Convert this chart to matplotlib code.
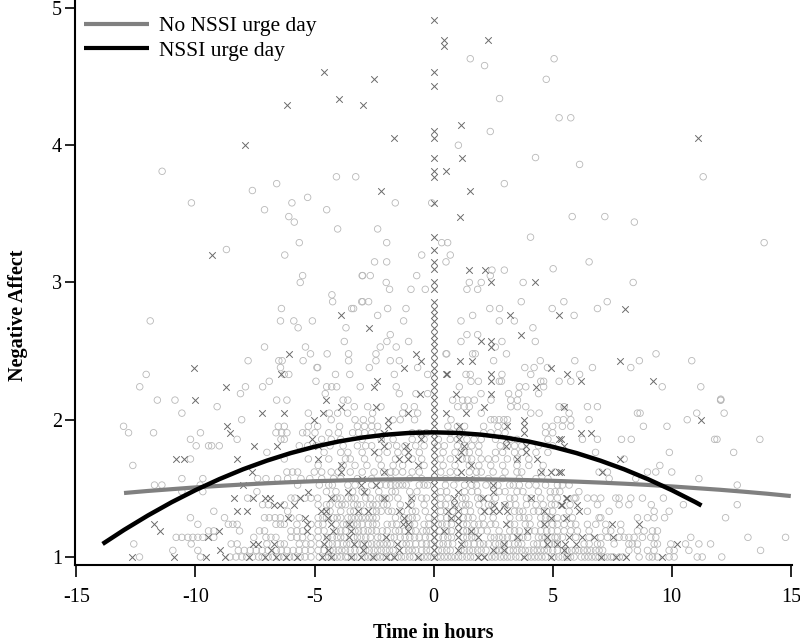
import matplotlib
matplotlib.use("Agg")
import matplotlib.pyplot as plt
import numpy as np

plt.rcParams['font.family'] = ['Liberation Serif', 'DejaVu Serif']

# ---------------- data ----------------
# Negative-affect levels of the dense band (steps of 1/21)
levels = [1.0, 1.048, 1.095, 1.143, 1.19, 1.238, 1.286, 1.333, 1.381, 1.429, 1.476,
          1.524, 1.571, 1.619, 1.667, 1.714, 1.762, 1.81, 1.857, 1.905, 1.952, 2.0,
          2.048, 2.095, 2.143]

# circles (no NSSI urge day observations), x positions per level
circle_rows = [
    [-12.35, -9.79, -8.55, -8.3, -8.05, -7.85, -7.6, -7.35, -7.2, -6.95, -6.75, -6.5, -6.3, -6.05, -5.85, -5.6, -5.4, -5.15,
     -4.8, -4.55, -4.4, -4.2, -4.05, -3.9, -3.7, -3.6, -3.35, -3.2, -2.9, -2.75, -2.6, -2.4, -2.25, -2.1, -1.85, -1.75, -1.5,
     -1.35, -1.2, -1.0, -0.85, -0.55, -0.4, -0.25, -0.1, 0.15, 0.3, 0.45, 0.6, 0.75, 0.9, 1.05, 1.2, 1.4, 1.55, 1.7, 2.0, 2.3,
     2.45, 2.6, 2.8, 2.95, 3.1, 3.25, 3.45, 3.6, 3.95, 4.1, 4.25, 4.4, 4.55, 4.7, 5.05, 5.25, 5.4, 5.6, 5.75, 5.9,
     6.2, 6.35, 6.5, 6.65, 6.8, 6.95, 7.15, 7.3, 7.45, 7.55, 7.8, 7.95, 8.63, 9.05, 9.19, 9.4, 9.89, 10.1, 11.07, 11.28, 12.1],
    [-10.95, -9.9, -8.2, -7.95, -7.7, -7.45, -7.2, -6.95, -6.6, -6.4, -6.15, -5.9, -5.65, -5.4, -5.15,
     -4.85, -4.6, -4.35, -4.2, -4.0, -3.85, -3.7, -3.5, -3.3, -3.1, -2.85, -2.7, -2.5, -2.35, -2.2, -2.0, -1.85, -1.7, -1.25,
     -1.05, -0.9, -0.75, -0.5, -0.3, -0.15, 0.2, 0.35, 0.55, 0.7, 1.15, 1.3, 1.5, 1.65, 1.85, 2.0, 2.2, 2.6, 2.75, 2.9, 3.2,
     3.35, 3.5, 3.7, 3.85, 4.0, 4.2, 4.35, 4.5, 4.65, 4.8, 5.0, 5.2, 5.45, 5.6, 5.8, 5.95,
     6.1, 6.3, 6.45, 6.6, 6.8, 6.95, 7.1, 8.2, 8.56, 8.98, 9.26, 9.89, 10.1, 10.72, 13.73],
    [-12.59, -10.18, -8.5, -8.25, -7.0, -6.43, -6.27, -5.64, -5.36, -5.15,
     -4.8, -4.4, -4.25, -4.05, -3.8, -3.65, -3.5, -3.2, -3.0, -2.75, -2.6, -2.4, -2.25, -2.1, -1.95, -1.8, -1.3, -1.15, -1.0,
     -0.75, -0.5, -0.3, -0.1, 0.25, 0.4, 0.6, 0.8, 1.3, 1.45, 1.7, 1.95, 2.1, 2.3, 2.6, 2.75, 2.95, 3.15, 3.4, 3.55, 3.7,
     4.2, 4.35, 4.6, 4.85, 5.1,
     5.2, 6.32, 6.53, 6.88, 7.02, 7.58, 8.2, 8.34, 8.56, 9.26, 9.4, 9.96, 10.58, 11.14, 11.63],
    [-10.81, -10.57, -10.32, -10.11, -9.9, -9.69, -9.23, -7.55, -7.04, -6.83, -6.62, -5.99, -5.74, -5.5, -5.15,
     -4.85, -4.45, -4.25, -4.05, -3.9, -3.75, -3.35, -3.2, -3.05, -2.85, -2.65, -2.35, -2.2, -1.8, -1.65, -1.4, -1.2, -1.0,
     -0.8, -0.6, -0.35, -0.15, 0.2, 0.4, 0.6, 0.75, 1.25, 1.4, 1.6, 1.75, 2.4, 2.55, 2.75, 2.9, 3.1, 3.3, 3.6, 3.75, 3.95,
     4.4, 4.55, 4.7, 4.95, 5.1,
     5.2, 5.41, 5.97, 6.53, 7.02, 7.3, 7.79, 8.0, 8.2, 8.42, 8.77, 9.12, 9.33, 10.8, 13.2, 14.78],
    [-9.45, -9.23, -8.15, -7.31, -7.1, -5.99, -5.74, -5.5,
     -4.85, -4.6, -4.1, -3.9, -3.7, -3.3, -3.15, -2.95, -2.75, -2.6, -2.4, -2.15, -1.95, -1.6, -1.45, -1.2, -0.95, -0.75,
     -0.45, -0.3, -0.15, 0.25, 0.55, 0.75, 1.25, 1.4, 1.6, 1.75, 2.0, 2.25, 2.75, 3.2, 3.4, 3.6, 4.0, 4.25, 4.5, 4.75, 4.95,
     5.2, 5.48, 5.76, 6.04, 6.53, 7.23, 7.44, 7.86, 8.56, 8.84, 9.19, 9.4],
    [-9.9, -8.62, -8.43, -8.25, -6.62, -6.43, -6.27, -5.74, -5.15,
     -4.85, -4.65, -4.1, -3.8, -3.65, -3.5, -3.35, -3.2, -3.0, -2.75, -2.55, -2.4, -1.95, -1.75, -1.55, -1.0, -0.8, -0.4,
     -0.2, 0.2, 0.35, 0.55, 0.75, 1.25, 1.4, 1.7, 1.9, 2.1, 2.4, 2.6, 3.2, 3.4, 3.85, 4.05, 4.5, 4.7, 5.0,
     5.2, 5.48, 5.76, 5.97, 6.46, 6.81, 7.23, 7.86],
    [-10.21, -8.78, -7.1, -6.9, -6.66, -6.43, -5.99, -5.64,
     -4.85, -4.65, -4.5, -4.2, -4.05, -3.9, -3.6, -3.45, -3.3, -3.15, -3.0, -2.85, -2.7, -2.55, -2.4, -1.6, -1.25, -1.05,
     -0.9, -0.7, -0.2, 0.3, 0.55, 0.75, 1.25, 1.45, 1.65, 2.05, 2.5, 3.2, 3.6, 3.8, 4.0, 4.5, 4.7, 4.9,
     5.2, 5.48, 5.83, 6.95, 7.02, 8.56, 8.98, 9.26, 9.7, 12.26],
    [-9.23, -6.13,
     -4.5, -4.35, -3.9, -3.5, -3.35, -2.9, -2.55, -2.4, -2.2, -1.9, -1.75, -1.35, -0.9, -0.75, -0.35, 0.3, 0.55, 0.8, 1.3,
     1.55, 2.0, 2.3, 3.4, 3.6, 3.75, 4.2, 4.4, 4.75, 5.0,
     5.69, 6.46, 7.37, 9.26, 9.89],
    [-7.18, -6.94, -6.27,
     -4.85, -4.5, -4.35, -4.0, -3.85, -3.7, -3.35, -3.2, -3.05, -2.7, -2.55, -2.4, -2.1, -1.95, -1.4, -0.95, -0.4, 0.3, 0.5,
     0.9, 1.2, 1.35, 1.5, 1.9, 2.3, 2.45, 3.0, 3.2, 3.45, 3.9, 4.3, 4.6, 4.95, 5.1,
     5.73, 6.88, 7.79, 8.2, 9.14, 10.49, 12.75],
    [-7.81, -5.99, -5.82, -5.4, -5.15,
     -4.87, -4.2, -4.05, -3.9, -3.6, -3.45, -3.3, -2.85, -2.65, -2.3, -2.15, -2.0, -1.85, -1.5, -0.9, -0.5, -0.3, 0.3, 0.6,
     1.2, 1.35, 1.85, 2.0, 2.3, 2.6, 3.2, 3.4, 3.9, 4.1, 4.5, 4.9, 5.2,
     5.9, 5.97, 6.46, 6.74, 7.02, 7.65, 7.79, 8.28, 8.77, 9.65],
    [-10.57, -9.69, -7.42,
     -4.5, -4.1, -3.4, -3.0, -2.8, -2.3, -1.75, -1.6, -1.0, -0.7, 0.3, 0.55, 1.3, 1.6, 1.85, 2.75, 3.0, 3.5, 3.75, 4.4, 4.9,
     5.1, 5.3, 6.1],
    [-11.72, -11.41, -9.8, -5.71,
     -4.8, -4.4, -4.25, -3.6, -3.3, -2.6, -2.25, -2.0, -1.8, -1.6, -1.45, -1.3, -1.15, -0.6, -0.4, -0.25, 0.5, 0.85, 1.3,
     1.6, 1.8, 2.2, 2.5, 2.7, 3.2, 3.35, 3.6, 4.0, 4.3, 4.7,
     5.2, 5.41, 5.69, 12.75],
    [-10.57, -9.69, -7.39, -7.04, -6.55, -6.13, -5.57, -5.2,
     -4.7, -4.2, -3.9, -3.2, -2.6, -1.8, -1.0, -0.5, 0.5, 1.0, 1.8, 2.3, 2.9, 3.6, 4.3, 4.8,
     7.37, 8.49, 11.14],
    [-6.16, -5.92, -5.71, -5.01,
     -4.7, -4.3, -4.0, -3.5, -3.0, -2.5, -2.1, -1.8, -1.6, -1.3, -0.9, -0.6, 0.3, 0.7, 1.0, 1.5, 1.8, 2.0, 2.5, 3.0, 3.5,
     3.7, 4.5, 5.1,
     6.95, 7.3, 8.98, 9.33, 10.0],
    [-12.63,
     -4.85, -3.8, -3.3, -2.8, -2.2, -1.7, -1.3, -0.4, 0.4, 0.9, 1.5, 1.9, 2.4, 2.9, 3.5, 4.0, 4.6,
     9.5],
    [-10.21, -6.27, -5.26,
     -4.4, -3.7, -3.5, -2.9, -2.3, -1.6, -0.9, -0.5, 0.3, 0.7, 1.2, 1.4, 1.6, 2.0, 2.3, 2.6, 3.1, 3.5, 4.0,
     8.0],
    [-7.0,
     -4.6, -3.9, -3.6, -3.0, -2.3, -1.95, -1.5, -1.2, -0.6, 0.4, 0.9, 1.3, 1.5, 1.9, 2.6, 2.9, 3.4, 3.7, 4.3, 4.8,
     6.8, 9.9, 12.6],
    [-9.97, -9.45, -9.32, -9.0, -5.64, -5.29, -4.94,
     -4.35, -3.8, -3.2, -2.85, -2.6, -1.9, -1.55, -1.2, -0.75, -0.4, 0.17, 0.45, 1.0, 1.3, 1.6, 1.9, 2.8, 3.1, 3.4, 3.7,
     4.4, 5.0],
    [-10.21, -8.25, -6.41, -6.27,
     -4.7, -4.3, -3.9, -3.0, -2.2, -1.7, -0.9, -0.4, 0.2, 0.7, 1.0, 1.4, 1.7, 2.0, 2.6, 3.2, 3.5, 4.8,
     6.25, 6.88, 7.89, 8.3, 11.8, 11.9, 13.7],
    [-12.81, -11.76, -9.79, -6.62, -6.38, -6.16, -5.5, -5.32, -4.98,
     -4.4, -4.0, -3.4, -3.15, -2.9, -2.6, -2.3, -0.9, -0.6, -0.3, 0.7, 1.2, 2.1, 2.4, 2.7, 3.0, 4.7, 5.0],
    [-13.02, -6.52, -6.27, -5.26,
     -4.87, -3.95, -3.2, -2.9, -2.6, -2.35, 0.6, 1.0, 1.3, 2.1, 2.7, 3.0, 4.7, 5.0,
     5.41, 5.76, 8.81, 9.8],
    [-8.06,
     -4.3, -3.3, -2.95, -2.6, -1.7, -1.4, -0.8, 0.73, 2.4, 2.55, 2.75, 2.95, 3.1,
     5.2, 5.45, 5.76, 6.53, 10.65],
    [-10.57, -5.26,
     -4.38, -4.03, -3.61, -2.56, -1.3, -0.67, 2.0, 4.08, 4.43,
     5.69, 8.56, 8.67, 11.05, 12.2],
    [-9.09,
     -3.33, -2.77, -2.21, -1.23, -0.81, 1.01, 1.29, 1.5, 3.24, 3.52, 3.87, 5.27,
     5.48, 6.46, 6.88],
    [-11.6, -10.86, -6.59, -6.16,
     -3.8, -3.6, 0.8, 1.22, 1.43, 1.71, 2.41, 3.24, 3.52,
     12.05, 12.06],
]

# crosses (NSSI urge day observations), x positions per level
cross_rows = [
    [-12.67, -10.91, -9.55, -8.78, -7.75, -7.1, -6.6, -6.2, -5.75, -4.7, -4.31, -3.47, -3.05, -2.56, -2.0, -1.65, -0.67,
     0, 1.85, 2.13, 3.8, 4.92, 5.62, 7.02, 7.65, 8.07, 9.61],
    [-8.97, -6.83, -4.45, -2.98, -1.44, 0, 1.01, 2.48, 2.97, 5.48],
    [-7.6, -7.39, -6.69, -4.59, -3.33, -2.91, -1.55, 0, 1.15, 2.97, 4.78, 5.2, 5.5, 5.97, 10.23],
    [-9.48, -4.52, -3.54, -2.0, 0, 1.01, 1.85, 3.52, 4.78, 5.69, 6.25, 6.74, 7.55],
    [-11.51, -9.0, -5.3, -4.24, -3.47, -1.09, 0, 0.45, 1.01, 1.57, 3.94],
    [-11.75, -5.32, -4.31, -3.54, -1.3, -1.09, 0, 1.01, 3.03, 4.64, 7.51, 8.63],
    [-6.13, -5.4, -4.45, -1.23, 0, 0.73, 1.01, 4.92, 5.55],
    [-8.25, -7.83, -4.73, -4.52, -3.19, -2.77, -1.44, 0, 0.59, 1.01, 2.13, 2.48, 2.76, 3.1, 4.64, 6.11],
    [-6.69, -6.43, -5.87, -1.09, 0, 0.87, 2.55, 2.97, 5.34, 5.41, 6.04],
    [-8.39, -7.6, -7.08, -6.85, -5.6, -4.31, -2.07, -0.95, 0, 0.87, 2.06, 4.08, 5.55, 5.62],
    [-5.26, -3.61, -2.91, 0, 1.01, 2.48],
    [-8.01, -3.05, -2.42, 0, 2.48],
    [-3.0, 0, 1.5],
    [-7.64, -3.89, -2.07, 0, 1.15, 4.5, 4.92, 5.27, 5.34, 7.09],
    [-3.89, -0.67, 0, 1.57],
    [-10.82, -10.47, -8.25, -4.87, -1.44, -1.09, 0, 1.01, 3.52, 4.36, 7.83],
    [-2.49, -1.09, 0, 1.15, 3.87],
    [-7.55, -6.58, -4.87, -2.07, -1.16, 0, 1.29, 3.03, 3.87, 5.48],
    [-5.12, -2.21, -0.53, 0, 1.08, 3.03, 5.27, 5.34],
    [-8.55, -2.07, -0.53, 0, 1.08, 3.8, 6.18, 6.6],
    [-8.69, -1.93, 0, 1.08, 3.1, 3.8],
    [-5.04, -1.93, 0, 3.8, 11.24],
    [-7.22, -6.27, -4.66, -1.09, 0, 0.52, 1.36],
    [-3.89, -2.42, 0, 2.13, 5.48],
    [-10.0, -4.52, 0],
]

# sparse upper observations (x, y)
circle_sparse = [
    (-8.11, 2.19), (-4.55, 2.19), (-1.44, 2.19), (-0.74, 2.19), (-0.25, 2.19), (1.99, 2.19), (3.15, 2.19), (3.57, 2.19),
    (4.41, 2.19), (12.06, 2.15),
    (-12.34, 2.24), (-7.9, 2.24), (-7.18, 2.24), (-4.49, 2.24), (-4.28, 2.24), (-4.07, 2.24), (-3.08, 2.24), (-1.57, 2.24),
    (1.08, 2.24), (3.6, 2.24), (3.87, 2.24), (4.62, 2.24), (9.6, 2.24), (11.22, 2.24),
    (1.54, 4.63), (2.14, 4.58), (5.06, 4.63), (4.73, 4.48), (2.77, 4.34), (5.27, 4.2), (5.76, 4.2), (2.38, 4.1),
    (1.04, 4.0), (4.28, 3.91), (2.97, 3.72), (-1.61, 3.58), (-0.08, 3.58), (-2.35, 3.39), (4.07, 3.33), (-1.97, 3.29),
    (0.34, 3.29), (0.59, 3.29), (-0.5, 3.2), (0.7, 3.2), (-2.48, 3.15), (-1.97, 3.15), (0.52, 3.15),
    (-11.4, 3.81), (-4.08, 3.77), (-3.27, 3.77), (-6.59, 3.72), (-7.61, 3.67), (-10.17, 3.58), (-5.95, 3.58),
    (-5.29, 3.62), (-7.1, 3.53), (-4.49, 3.53), (-6.08, 3.48), (-5.85, 3.44), (-4.03, 3.39), (-5.64, 3.29), (-8.7, 3.24),
    (-6.25, 3.2), (-5.5, 3.05), (-5.6, 3.0), (-3.0, 3.05), (-4.27, 2.91), (-4.24, 2.86), (-3.02, 2.86), (-3.44, 2.81),
    (-6.39, 2.81), (-11.9, 2.72), (-6.43, 2.72), (-5.87, 2.72), (-5.69, 2.67), (-5.09, 2.72), (-3.68, 2.67),
    (-3.75, 2.57), (-7.1, 2.53), (-5.38, 2.53), (-5.17, 2.48), (-4.47, 2.48), (-3.57, 2.48), (-7.79, 2.43),
    (-6.5, 2.43), (-6.36, 2.43), (-5.48, 2.43), (-3.57, 2.43), (-12.07, 2.33), (-6.43, 2.38), (-6.27, 2.33),
    (-6.08, 2.33), (-4.9, 2.38), (-4.12, 2.33), (-3.52, 2.33),
    (6.13, 3.86), (11.32, 3.77), (5.82, 3.48), (7.19, 3.48), (8.43, 3.44), (13.88, 3.29), (6.53, 3.15), (5.02, 3.1),
    (8.38, 3.0), (5.47, 2.86), (7.29, 2.86), (4.98, 2.81), (6.88, 2.81), (5.9, 2.76), (9.34, 2.48), (4.48, 2.43),
    (5.93, 2.43), (8.64, 2.43), (10.84, 2.43), (6.13, 2.33), (6.67, 2.38), (8.28, 2.38),
    (-2.98, 3.05), (-2.66, 3.05), (-0.71, 3.05), (-1.99, 3.0), (-1.85, 2.95), (-0.95, 2.95), (-0.35, 2.95),
    (-2.98, 2.86), (-2.73, 2.86), (-3.36, 2.81), (-1.93, 2.81), (-1.16, 2.81), (-2.35, 2.76), (-1.26, 2.72),
    (-1.82, 2.62), (-1.96, 2.57), (-1.05, 2.57), (-2.24, 2.53), (-1.57, 2.53), (-2.42, 2.48), (0.52, 2.48),
    (-2.42, 2.43), (-1.82, 2.43), (-1.44, 2.43), (-4.87, 2.38), (-2.7, 2.38), (-0.67, 2.38), (-1.65, 2.33),
    (-0.25, 2.33), (-6.9, 2.28), (-4.94, 2.28),
    (2.45, 3.09), (2.97, 3.09), (2.38, 3.05), (1.5, 3.0), (2.0, 3.0), (3.76, 3.0), (1.4, 2.95), (1.85, 2.95),
    (3.68, 2.86), (2.36, 2.81), (2.77, 2.81), (1.64, 2.76), (1.15, 2.72), (2.76, 2.72), (3.39, 2.72), (4.17, 2.67),
    (1.4, 2.62), (1.85, 2.62), (1.15, 2.57), (2.87, 2.57), (4.27, 2.57), (2.59, 2.53), (0.55, 2.48), (1.64, 2.48),
    (1.75, 2.48), (3.06, 2.48), (2.52, 2.43), (3.83, 2.38), (4.22, 2.38), (4.78, 2.38), (4.08, 2.33), (1.36, 2.33),
    (1.54, 2.33), (2.87, 2.33), (1.57, 2.28), (1.88, 2.28), (2.76, 2.28), (2.85, 2.28), (4.5, 2.28), (4.62, 2.28),
    (5.27, 2.28), (5.76, 2.28),
]

cross_sparse = [
    (-0.56, 2.19), (0, 2.19), (0.94, 2.19), (2.41, 2.19),
    (-8.7, 2.24), (-2.52, 2.24), (0, 2.24), (4.32, 2.24),
    (0, 4.91), (0.42, 4.77), (0.42, 4.72), (2.27, 4.77), (-2.52, 4.48), (0, 4.53), (0, 4.43), (-2.98, 4.29),
    (1.17, 4.15), (0, 4.1), (0, 4.05), (-1.68, 4.05), (0, 3.91), (1.2, 3.91), (0, 3.81), (0, 3.77), (0.53, 3.81),
    (-2.22, 3.67), (1.51, 3.67), (0, 3.58), (1.1, 3.48), (0, 3.33), (0, 3.24), (0, 3.15), (0, 3.1),
    (0, 3.0), (0, 2.95), (0, 2.86), (0, 2.81), (0, 2.76), (0, 2.72), (0, 2.67), (0, 2.62), (0, 2.57), (0, 2.53),
    (0, 2.48), (0, 2.43), (0, 2.38), (0, 2.33), (0, 2.28),
    (-4.62, 4.53), (-3.99, 4.34), (-6.14, 4.29), (-7.94, 4.0), (-9.3, 3.2), (-3.89, 2.76), (-6.07, 2.48),
    (-10.05, 2.38), (-6.41, 2.33),
    (11.12, 4.05), (8.03, 2.81), (5.26, 2.76), (7.83, 2.43), (4.92, 2.38), (5.59, 2.33), (9.2, 2.28),
    (-2.73, 2.67), (-0.74, 2.48), (-0.53, 2.43), (-1.26, 2.38), (0.52, 2.33), (-2.39, 2.28),
    (1.47, 3.09), (2.17, 3.09), (2.41, 3.0), (4.25, 3.0), (3.22, 2.76), (3.66, 2.62), (1.99, 2.57), (2.41, 2.57),
    (2.41, 2.53), (1.1, 2.43), (1.61, 2.43), (0.56, 2.33), (2.41, 2.33), (2.41, 2.28), (6.18, 2.28),
]

# fitted curves, read every hour
no_urge_x = [-13, -12, -11, -10, -9, -8, -7, -6, -5, -4, -3, -2, -1, 0, 1, 2, 3, 4, 5, 6, 7, 8, 9, 10, 11, 12, 13, 14, 15]
no_urge_y = [1.466, 1.481, 1.494, 1.507, 1.518, 1.528, 1.537, 1.545, 1.552, 1.557, 1.562, 1.565, 1.567, 1.568, 1.568,
             1.566, 1.564, 1.560, 1.555, 1.549, 1.542, 1.534, 1.525, 1.514, 1.502, 1.490, 1.476, 1.461, 1.444]
urge_x = [-13.9, -13, -12, -11, -10, -9, -8, -7, -6, -5, -4, -3, -2, -1, 0, 1, 2, 3, 4, 5, 6, 7, 8, 9, 10, 11, 11.25]
urge_y = [1.095, 1.197, 1.302, 1.399, 1.487, 1.567, 1.639, 1.702, 1.757, 1.803, 1.841, 1.870, 1.891, 1.904, 1.908,
          1.904, 1.891, 1.870, 1.841, 1.803, 1.757, 1.702, 1.639, 1.567, 1.487, 1.399, 1.375]

x_ticks = [-15, -10, -5, 0, 5, 10, 15]
y_ticks = [1, 2, 3, 4, 5]

# ---------------- assemble ----------------
cx, cy = [], []
for lev, row in zip(levels, circle_rows):
    cx += row
    cy += [lev] * len(row)
cx += [p[0] for p in circle_sparse]
cy += [p[1] for p in circle_sparse]

xx, xy = [], []
for lev, row in zip(levels, cross_rows):
    xx += row
    xy += [lev] * len(row)
xx += [p[0] for p in cross_sparse]
xy += [p[1] for p in cross_sparse]

# ---------------- figure ----------------
fig = plt.figure(figsize=(8, 6.44), dpi=100)
ax = fig.add_axes([0.094, 0.1227, 0.896, 0.8773])

ax.scatter(cx, cy, s=22, facecolors='none', edgecolors='#b8b8b8', linewidths=0.6, marker='o', zorder=2)
ax.scatter(xx, xy, s=22, c='#6a6a6a', linewidths=0.7, marker='x', zorder=3)

ax.plot(no_urge_x, no_urge_y, color='#808080', lw=3.0, solid_capstyle='butt', zorder=4, label='No NSSI urge day')
ax.plot(urge_x, urge_y, color='black', lw=3.2, solid_capstyle='butt', zorder=5, label='NSSI urge day')

ax.set_xlim(-15.05, 15.05)
ax.set_ylim(0.9417, 5.058)
ax.set_xticks(x_ticks)
ax.set_xticklabels([str(t) for t in x_ticks])
ax.set_yticks(y_ticks)
ax.set_yticklabels([str(t) for t in y_ticks])

for s in ['top', 'right']:
    ax.spines[s].set_visible(False)
for s in ['left', 'bottom']:
    ax.spines[s].set_linewidth(1.5)

ax.tick_params(axis='x', direction='out', length=8.5, width=1.2, pad=8, labelsize=14.5)
ax.tick_params(axis='y', direction='out', length=7.5, width=1.2, pad=2, labelsize=14.5)

fig.text(0.5 * (0.094 + 0.99), 1 - 633 / 644, 'Time in hours', ha='center', va='center',
         fontsize=14.5, fontweight='bold')
fig.text(18 / 800, 1 - 315 / 644, 'Negative Affect', ha='center', va='center', rotation=90,
         fontsize=14.5, fontweight='bold')

leg = ax.legend(loc='upper left', bbox_to_anchor=(84 / 800, 1 - 16 / 644), bbox_transform=fig.transFigure,
                frameon=False, fontsize=15.5, handlelength=3.0, handletextpad=0.5, labelspacing=0.22,
                borderpad=0, borderaxespad=0)
for line in leg.get_lines():
    line.set_linewidth(3.0)

fig.savefig('out.png', dpi=100)
